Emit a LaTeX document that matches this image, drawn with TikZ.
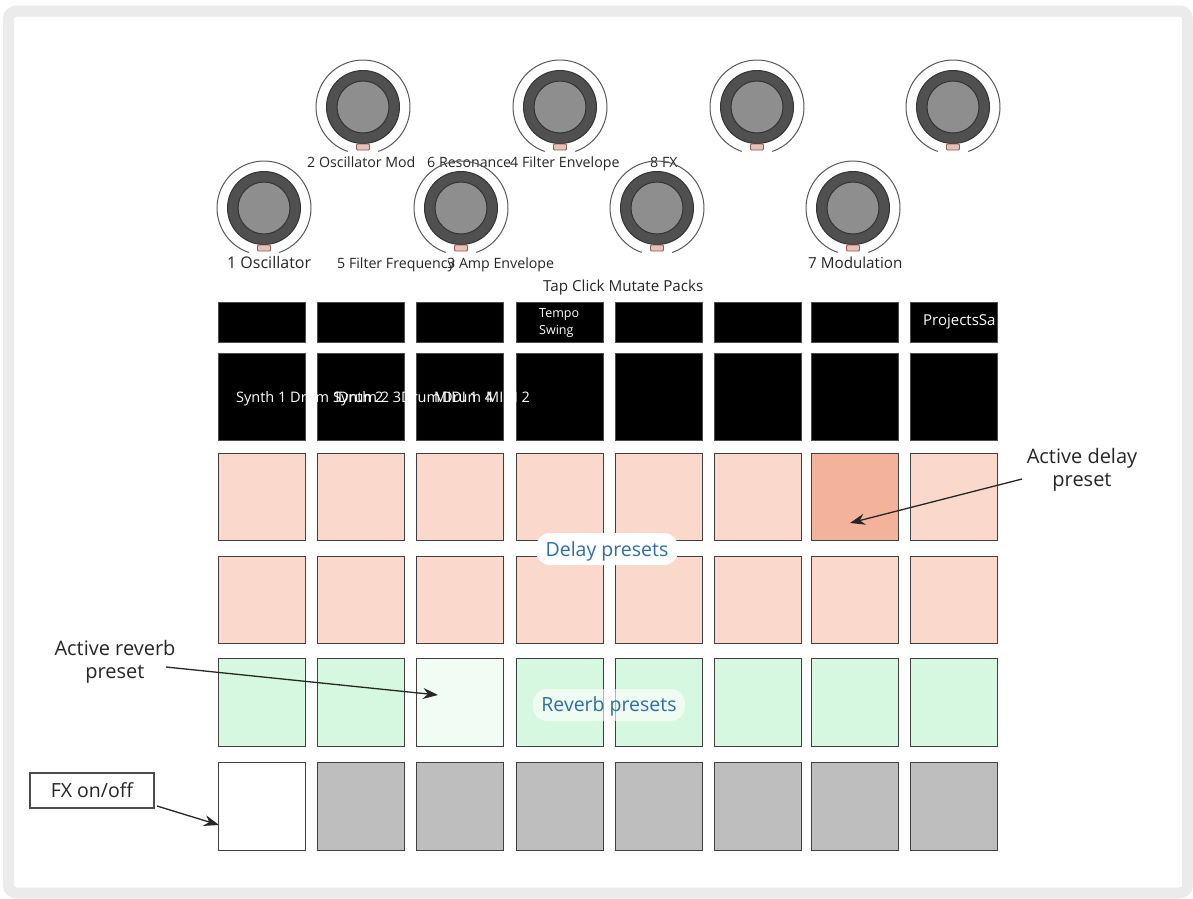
\documentclass[tikz,border=0pt]{standalone}
\usepackage{fontspec}
\setmainfont{Open Sans}
\usetikzlibrary{arrows.meta}
\definecolor{framegray}{HTML}{EBEBEB}
\definecolor{padline}{HTML}{404040}
\definecolor{pinkpad}{HTML}{FAD9CC}
\definecolor{activepink}{HTML}{F3B39B}
\definecolor{greenpad}{HTML}{D6F8E0}
\definecolor{activegreen}{HTML}{F1FCF4}
\definecolor{graypad}{HTML}{BEBEBE}
\definecolor{knobdark}{HTML}{505050}
\definecolor{knobinner}{HTML}{8E8E8E}
\definecolor{ledfill}{HTML}{E3C2B8}
\definecolor{ledline}{HTML}{9A5A50}
\definecolor{bluetext}{HTML}{2E6DAA}
\begin{document}
\begin{tikzpicture}[x=1pt,y=-1pt,
  pad/.style={draw=padline, line width=1.2pt, inner sep=0pt, anchor=north west, minimum width=87pt},
  blackpad/.style={draw=black!70, fill=black, line width=1pt, inner sep=0pt, anchor=north west, minimum width=87pt},
  knoblabel/.style={font=\fontsize{14.2}{16}\selectfont, inner sep=0pt, anchor=base west, text=black!85},
  padtext/.style={font=\fontsize{14.5}{16}\selectfont, inner sep=0pt, anchor=base west, text=white},
  note/.style={font=\fontsize{20}{22.5}\selectfont, align=center, inner sep=0pt, text=black!85},
  knob/.style={circle, draw=black!80, fill=knobdark, line width=1pt, minimum size=73pt, inner sep=0pt},
  knobin/.style={circle, draw=black!80, fill=knobinner, line width=1pt, minimum size=52pt, inner sep=0pt},
  ringline/.style={draw=black!65, line width=1pt},
  led/.style={draw=ledline, fill=ledfill, line width=0.8pt, rounded corners=1pt, minimum width=13pt, minimum height=6pt, inner sep=0pt},
  arrowline/.style={draw=black!85, line width=1.3pt, -{Stealth[length=15pt,width=11pt]}},
  pill/.style={fill=white, rounded corners=14pt, inner sep=0pt, minimum height=32pt},
  sectionlabel/.style={font=\fontsize{19.5}{22}\selectfont, text=bluetext, inner sep=0pt}
]
\useasboundingbox (0,0) rectangle (1193,898);
\fill[white] (0,0) rectangle (1193,898);
\draw[framegray, line width=11pt, rounded corners=8pt] (8.5,11) rectangle (1187.5,893);

% knob labels (drawn below knobs)
\node[knoblabel] (l2) at (307,167) {2 Oscillator Mod};
\node[knoblabel] (l6) at (427,167) {6 Resonance};
\node[knoblabel] (l4) at (510,167) {4 Filter Envelope};
\node[knoblabel] (l8) at (650,167) {8 FX};
\node[knoblabel, font=\fontsize{16}{18}\selectfont] (l1) at (227,268) {1 Oscillator};
\node[knoblabel] (l5) at (337,268) {5 Filter Frequency};
\node[knoblabel] (l3) at (447,268) {3 Amp Envelope};
\node[knoblabel, font=\fontsize{15.2}{17}\selectfont] (l7) at (808,268) {7 Modulation};
\node[knoblabel, font=\fontsize{15.2}{17}\selectfont] (tap) at (543,291) {Tap Click Mutate Packs};

% knobs
\foreach \n/\cx/\cy in {t1/363/107, t2/560/107, t3/757/107, t4/953/107,
                         b1/264/208, b2/461/208, b3/657/208, b4/853/208}{
  \draw[ringline] (\cx,\cy) ++(109:47) arc[start angle=109, end angle=431, radius=47];
  \node[knob] (k\n) at (\cx,\cy) {};
  \node[knobin] (ki\n) at (k\n.center) {};
  \node[led] (led\n) at (\cx,\cy+40) {};
}

% pads
\foreach \c/\x in {1/218, 2/317, 3/416, 4/516, 5/615, 6/714, 7/811, 8/910}{
  \node[blackpad, minimum height=40pt] (pa\c) at (\x,302) {};
  \node[blackpad, minimum height=87pt] (pb\c) at (\x,353) {};
  \node[pad, fill=pinkpad, minimum height=87pt] (pc\c) at (\x,453) {};
  \node[pad, fill=pinkpad, minimum height=87pt] (pd\c) at (\x,556) {};
  \node[pad, fill=greenpad, minimum height=88pt] (pe\c) at (\x,658) {};
  \node[pad, fill=graypad, minimum height=88pt] (pf\c) at (\x,762) {};
}
% special pads
\node[pad, fill=activepink, minimum height=87pt] (pc7a) at (811,453) {};
\node[pad, fill=activegreen, minimum height=88pt] (pe3a) at (416,658) {};
\node[pad, fill=white, minimum height=88pt] (pf1a) at (218,762) {};

% texts on black pads
\node[padtext, font=\fontsize{12.5}{14}\selectfont] (tempo) at (539,317) {Tempo};
\node[padtext, font=\fontsize{12.5}{14}\selectfont] (swing) at (539,334) {Swing};
\node[padtext, font=\fontsize{15}{17}\selectfont] (proj) at (923,325) {ProjectsSa};
\node[padtext] (s1) at (236,402) {Synth 1 Drum 1};
\node[padtext] (s2) at (333,402) {Synth 2};
\node[padtext] (s3) at (338,402) {Drum 2 3Drum};
\node[padtext] (s4) at (434,402) {MIDI 1};
\node[padtext] (s5) at (442,402) {Drum 4};
\node[padtext] (s6) at (486,402) {MIDI 2};

% section labels
\node[pill, minimum width=142pt] (dpill) at (607,549) {};
\node[sectionlabel] (dlabel) at (607,551) {Delay presets};
\node[pill, minimum width=152pt, fill opacity=0.6] (rpill) at (609,705) {};
\node[sectionlabel] (rlabel) at (609,706) {Reverb presets};

% annotations
\node[note] (adelay) at (1082,470) {Active delay\\preset};
\node[note] (areverb) at (115,662) {Active reverb\\preset};
\node[draw=black!70, line width=1.1pt, fill=white, minimum width=124pt, minimum height=35pt, inner sep=0pt,
      font=\fontsize{19.5}{22}\selectfont, text=black!85] (fxbox) at (92,790.5) {FX on/off};

\coordinate (dstart) at (1022,479);
\coordinate (dtip) at (850,523);
\coordinate (rstart) at (166,667);
\coordinate (rtip) at (438,695);
\coordinate (fstart) at (157,806);
\coordinate (ftip) at (219,825);
\draw[arrowline] (dstart) -- (dtip);
\draw[arrowline] (rstart) -- (rtip);
\draw[arrowline] (fstart) -- (ftip);
\end{tikzpicture}
\end{document}
